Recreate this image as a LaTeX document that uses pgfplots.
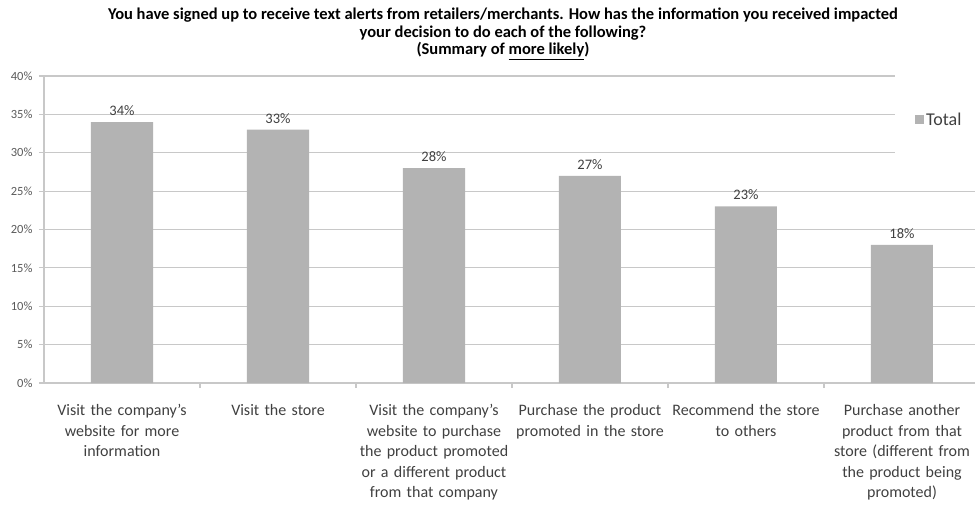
\documentclass[border=0pt]{standalone}
\usepackage{pgfplots}
\pgfplotsset{compat=1.18}
\usepackage{fontspec}
\setmainfont{Carlito}
\definecolor{barcol}{RGB}{179,179,179}
\definecolor{gridcol}{RGB}{200,200,200}
\definecolor{tickcol}{RGB}{90,90,90}
\definecolor{labcol}{RGB}{64,64,64}
\begin{document}
\begin{tikzpicture}
\useasboundingbox (0,0) rectangle (975pt,504pt);
\node[anchor=north, align=center, font=\fontsize{16.5}{17.5}\selectfont\bfseries, text=black, inner sep=0pt] at (503pt,496pt)
{You have signed up to receive text alerts from retailers/merchants. How has the information you received impacted\\
your decision to do each of the following?\\
(Summary of \underline{more likely})};
\begin{axis}[
  at={(44pt,121pt)}, anchor=south west,
  scale only axis, width=931pt, height=307pt,
  xmin=-0.5, xmax=5.468, ymin=0, ymax=40,
  clip=false,
  axis x line*=bottom, axis y line*=left,
  axis line style={draw=gridcol, line width=1.2pt},
  ymajorgrids, grid style={draw=gridcol, line width=1.2pt},
  ytick={0,5,...,40},
  yticklabels={0\%,5\%,10\%,15\%,20\%,25\%,30\%,35\%,40\%},
  yticklabel style={font=\fontsize{12.5}{14}\selectfont, text=tickcol, xshift=-3pt},
  tick align=outside,
  major tick length=5pt,
  tick style={draw=gridcol, line width=1.2pt},
  xtick={0,1,2,3,4,5},
  x tick style={draw=none},
  minor xtick={0.5,1.5,2.5,3.5,4.5},
  minor x tick style={draw=gridcol, line width=1.2pt},
  minor tick length=5pt,
  xticklabels={
    {Visit the company's\\website for more\\information},
    {Visit the store},
    {Visit the company's\\website to purchase\\the product promoted\\or a different product\\from that company},
    {Purchase the product\\promoted in the store},
    {Recommend the store\\to others},
    {Purchase another\\product from that\\store (different from\\the product being\\promoted)}},
  xticklabel style={font=\fontsize{16}{20.5}\selectfont, text=labcol, align=center, text width=160pt, anchor=north, yshift=-13pt},
  ybar, bar width=62pt,
  nodes near coords={\pgfmathprintnumber[assume math mode=true]{\pgfplotspointmeta}\%},
  nodes near coords style={font=\fontsize{14.5}{16}\selectfont, text=labcol, yshift=3pt},
  legend style={at={(0.935,0.858)}, anchor=west, draw=none, fill=none, font=\fontsize{18}{20}\selectfont, text=labcol, inner sep=0pt},
  legend image code/.code={\fill[barcol] (0pt,-4.5pt) rectangle (9.5pt,4.5pt);},
]
\fill[white] (rel axis cs:0.914,1.02) rectangle (rel axis cs:1.02,0.70);
\addplot[fill=barcol, draw=none] coordinates {(0,34) (1,33) (2,28) (3,27) (4,23) (5,18)};
\addlegendentry{Total}
\end{axis}
\end{tikzpicture}
\end{document}
